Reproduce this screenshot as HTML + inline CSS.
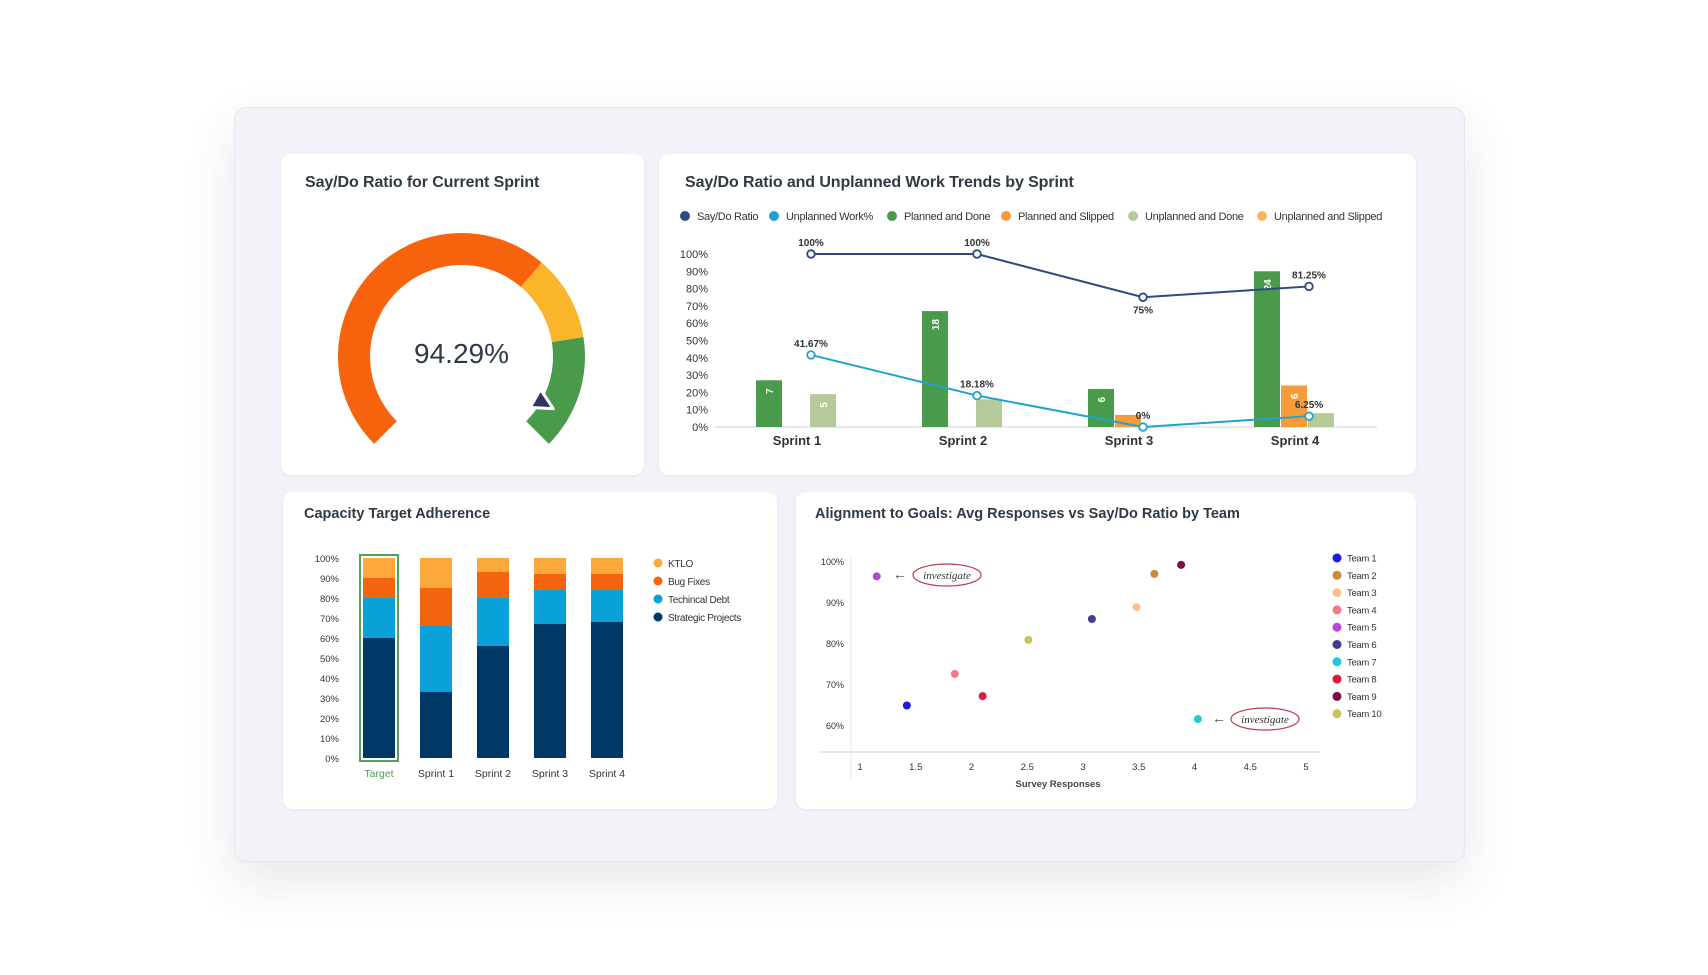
<!DOCTYPE html>
<html><head><meta charset="utf-8">
<style>
html,body{margin:0;padding:0;background:#fff;}
body{width:1708px;height:975px;position:relative;overflow:hidden;font-family:"Liberation Sans",sans-serif;}
.panel{position:absolute;left:234px;top:107px;width:1229px;height:753px;background:#f2f3f8;border-radius:12px;border:1px solid #e6e7ee;box-shadow:0 20px 50px rgba(60,60,90,0.12);}
.card{position:absolute;background:#fff;border-radius:10px;box-shadow:0 1px 3px rgba(0,0,0,0.06);}
.title{position:absolute;color:#2f3a45;font-weight:bold;white-space:nowrap;}
svg{position:absolute;left:0;top:0;}
</style></head>
<body>
<div class="panel"></div>
<div class="card" style="left:281px;top:154px;width:363px;height:321px;"></div>
<div class="card" style="left:659px;top:154px;width:757px;height:321px;"></div>
<div class="card" style="left:283px;top:492px;width:494px;height:317px;"></div>
<div class="card" style="left:796px;top:492px;width:620px;height:317px;"></div>

<div class="title" style="left:305px;top:174px;font-size:16px;letter-spacing:-0.1px;">Say/Do Ratio for Current Sprint</div>
<div class="title" style="left:685px;top:174px;font-size:16px;letter-spacing:-0.1px;">Say/Do Ratio and Unplanned Work Trends by Sprint</div>
<div class="title" style="left:304px;top:506px;font-size:14.5px;">Capacity Target Adherence</div>
<div class="title" style="left:815px;top:506px;font-size:14.5px;">Alignment to Goals: Avg Responses vs Say/Do Ratio by Team</div>

<svg id="chart" width="1708" height="975"></svg>

<script>
// ---- Gauge data ----
const gaugeValue = 94.29;
const gaugeBands = [65, 80, 100];
const gaugeColors = ['#f7630c', '#fbb52b', '#4a9a4c'];

// ---- Trend chart data ----
const sprints = ['Sprint 1', 'Sprint 2', 'Sprint 3', 'Sprint 4'];
const sayDo = [100, 100, 75, 81.25];
const unplanned = [41.67, 18.18, 0, 6.25];
const plannedDone = [27, 67, 22, 90];
const plannedSlipped = [0, 0, 7, 24];
const unplannedDone = [19, 16, 0, 8];
const unplannedSlipped = [0, 0, 0, 0];
const plannedDoneLabels = ['7', '18', '6', '24'];
const plannedSlippedLabels = ['', '', '', '6'];
const unplannedDoneLabels = ['5', '', '', ''];
const sayDoLabels = ['100%', '100%', '75%', '81.25%'];
const unplannedLabels = ['41.67%', '18.18%', '0%', '6.25%'];
const trendTicks = [0, 10, 20, 30, 40, 50, 60, 70, 80, 90, 100];

// ---- Capacity data ----
const capCats = ['Target', 'Sprint 1', 'Sprint 2', 'Sprint 3', 'Sprint 4'];
const strategic = [60, 33, 56, 67, 68];
const techDebt = [20, 33, 24, 17, 16];
const bugFixes = [10, 19, 13, 8, 8];
const ktlo = [10, 15, 7, 8, 8];
const capTicks = [0, 10, 20, 30, 40, 50, 60, 70, 80, 90, 100];

// ---- Scatter data ----
const teams = ['Team 1','Team 2','Team 3','Team 4','Team 5','Team 6','Team 7','Team 8','Team 9','Team 10'];
const responses = [1.42, 3.64, 3.48, 1.85, 1.15, 3.08, 4.03, 2.1, 3.88, 2.51];
const ratios = [65, 97.1, 89, 72.7, 96.5, 86.1, 61.7, 67.3, 99.3, 81];
const teamColors = ['#1a1ae0','#c98a3a','#fbc08e','#f07a85','#b845d6','#3f3f8f','#1fc9d6','#e3173e','#7a0f4a','#c9c35a'];
const scatterXTicks = [1, 1.5, 2, 2.5, 3, 3.5, 4, 4.5, 5];
const scatterYTicks = [60, 70, 80, 90, 100];

const NS = 'http://www.w3.org/2000/svg';
const svg = document.getElementById('chart');
function mk(tag, attrs, parent, txt){
  const e = document.createElementNS(NS, tag);
  for (const k in attrs) e.setAttribute(k, attrs[k]);
  if (txt !== undefined) e.textContent = txt;
  (parent || svg).appendChild(e);
  return e;
}

// ===== Gauge =====
(function(){
  const cx = 461.5, cy = 356.5, ro = 123.5, ri = 91.5;
  const a0 = -135, span = 270;
  const ang = v => a0 + span * v / 100;
  const pt = (r, a) => [cx + r * Math.sin(a * Math.PI / 180), cy - r * Math.cos(a * Math.PI / 180)];
  function arc(v1, v2){
    const A = ang(v1), B = ang(v2), large = (B - A) > 180 ? 1 : 0;
    const p1 = pt(ro, A), p2 = pt(ro, B), p3 = pt(ri, B), p4 = pt(ri, A);
    return `M${p1} A${ro},${ro} 0 ${large} 1 ${p2} L${p3} A${ri},${ri} 0 ${large} 0 ${p4} Z`;
  }
  let prev = 0;
  gaugeBands.forEach((b, i) => {
    const p = mk('path', {d: arc(prev, b), fill: gaugeColors[i]});
    
    
    prev = b;
  });
  const a = ang(gaugeValue), tip = pt(ri + 14, a), b1 = pt(ri - 6, a - 7), b2 = pt(ri - 6, a + 7);
  const tri = mk('polygon', {points: `${tip} ${b1} ${b2}`, fill: '#2f3560', stroke: '#fff', 'stroke-width': 3, 'stroke-linejoin': 'round'});
  
  
  const t = mk('text', {x: cx, y: 363, 'text-anchor': 'middle', 'font-size': 28, fill: '#2f3a45'}, null, gaugeValue.toFixed(2) + '%');
  
  
})();

// ===== Trend chart =====
(function(){
  const y = v => 427 - v * 1.73;
  const cx = i => 811 + i * 166;
  const legend = [['Say/Do Ratio','#2f4a7f',685],['Unplanned Work%','#1fa3d1',774],['Planned and Done','#4a9a4c',892],['Planned and Slipped','#f59b3a',1006],['Unplanned and Done','#b5c99a',1133],['Unplanned and Slipped','#f9b560',1262]];
  legend.forEach(l => {
    const g = mk('g', {});
    
    
    mk('circle', {cx: l[2], cy: 216, r: 5, fill: l[1]}, g);
    mk('text', {x: l[2] + 12, y: 220, 'font-size': 11, fill: '#333', 'letter-spacing': '-0.3'}, g, l[0]);
  });
  trendTicks.forEach(v => {
    const t = mk('text', {x: 708, y: y(v) + 4, 'text-anchor': 'end', 'font-size': 11, fill: '#333'}, null, v + '%');
    
    
  });
  mk('line', {x1: 715, x2: 1377, y1: 427, y2: 427, stroke: '#dde0e6', 'stroke-width': 1.5});
  const series = [[plannedDone,'#4a9a4c',plannedDoneLabels],[plannedSlipped,'#f59b3a',plannedSlippedLabels],[unplannedDone,'#b5c99a',unplannedDoneLabels],[unplannedSlipped,'#f9b560',null]];
  sprints.forEach((s, i) => {
    series.forEach((se, j) => {
      const v = se[0][i];
      if (v <= 0) return;
      const x = cx(i) - 55 + j * 27;
      const r = mk('rect', {x: x, y: y(v), width: 26, height: 427 - y(v), fill: se[1]});
      
      
      if (se[2] && se[2][i]) {
        mk('text', {x: 0, y: 0, transform: `translate(${x + 17},${y(v) + 8}) rotate(-90)`, 'text-anchor': 'end', 'font-size': 10, 'font-weight': 'bold', fill: '#fff'}, null, se[2][i]);
      }
    });
    const lt = mk('text', {x: cx(i) - 14, y: 445, 'text-anchor': 'middle', 'font-size': 13, 'font-weight': 'bold', fill: '#333'}, null, s);
    
    
  });
  function line(vals, color, labels, below){
    const p = mk('polyline', {points: vals.map((v, i) => cx(i) + ',' + y(v)).join(' '), fill: 'none', stroke: color, 'stroke-width': 2});
    
    
    vals.forEach((v, i) => {
      const c = mk('circle', {cx: cx(i), cy: y(v), r: 3.8, fill: '#fff', stroke: color, 'stroke-width': 1.8});
      
      
      const b = below[i];
      mk('text', {x: cx(i), y: b ? y(v) + 16 : y(v) - 8, 'text-anchor': 'middle', 'font-size': 10, 'font-weight': 'bold', fill: '#333'}, null, labels[i]);
    });
  }
  line(sayDo, '#2f4a7f', sayDoLabels, [false, false, true, false]);
  line(unplanned, '#1fa3d1', unplannedLabels, [false, false, false, false]);
})();

// ===== Capacity chart =====
(function(){
  const y = v => 758 - v * 2;
  const cx = i => 379 + i * 57;
  capTicks.forEach(v => {
    mk('text', {x: 339, y: y(v) + 4, 'text-anchor': 'end', 'font-size': 9.5, fill: '#333'}, null, v + '%');
  });
  const stacks = [[strategic,'#003865'],[techDebt,'#0aa0d8'],[bugFixes,'#f4640f'],[ktlo,'#fca83c']];
  capCats.forEach((c, i) => {
    let base = 0;
    stacks.forEach((s, j) => {
      const v = s[0][i];
      const r = mk('rect', {x: cx(i) - 16, y: y(base + v), width: 32, height: v * 2, fill: s[1]});
      
      
      base += v;
    });
    const t = mk('text', {x: cx(i), y: 777, 'text-anchor': 'middle', 'font-size': 10.5, fill: i === 0 ? '#4e9a50' : '#333'}, null, c);
    
    
  });
  const o = mk('rect', {x: cx(0) - 19, y: y(100) - 3, width: 38, height: 206, fill: 'none', stroke: '#5a9e5c', 'stroke-width': 2});
  
  
  const leg = [['KTLO','#fca83c'],['Bug Fixes','#f4640f'],['Techincal Debt','#0aa0d8'],['Strategic Projects','#003865']];
  leg.forEach((l, i) => {
    const g = mk('g', {});
    
    
    mk('circle', {cx: 658, cy: 563 + i * 18, r: 4.5, fill: l[1]}, g);
    mk('text', {x: 668, y: 567 + i * 18, 'font-size': 10, fill: '#333', 'letter-spacing': '-0.3'}, g, l[0]);
  });
})();

// ===== Scatter =====
(function(){
  const sx = v => 860 + (v - 1) * 111.5;
  const sy = v => 562 + (100 - v) * 4.1;
  mk('line', {x1: 851, x2: 851, y1: 557, y2: 780, stroke: '#e2e4ea', 'stroke-width': 1});
  mk('line', {x1: 820, x2: 1320, y1: 752, y2: 752, stroke: '#e2e4ea', 'stroke-width': 1.5});
  scatterYTicks.forEach(v => mk('text', {x: 844, y: sy(v) + 3, 'text-anchor': 'end', 'font-size': 9, fill: '#333'}, null, v + '%'));
  scatterXTicks.forEach(v => mk('text', {x: sx(v), y: 770, 'text-anchor': 'middle', 'font-size': 9.5, fill: '#333'}, null, String(v)));
  const xt = mk('text', {x: 1058, y: 787, 'text-anchor': 'middle', 'font-size': 9.5, 'font-weight': 'bold', fill: '#444'}, null, 'Survey Responses');
  
  
  teams.forEach((t, i) => {
    const c = mk('circle', {cx: sx(responses[i]), cy: sy(ratios[i]), r: 4, fill: teamColors[i]});
    
    
    const g = mk('g', {});
    
    
    const ly = 558 + i * 17.3;
    mk('circle', {cx: 1337, cy: ly, r: 4.5, fill: teamColors[i]}, g);
    mk('text', {x: 1347, y: ly + 3.5, 'font-size': 9.5, fill: '#333', 'letter-spacing': '-0.3'}, g, t);
  });
  [[900, 947, 575], [1219, 1265, 719]].forEach(a => {
    const g = mk('g', {});
    
    
    mk('text', {x: a[0], y: a[2] + 4, 'text-anchor': 'middle', 'font-size': 14, fill: '#444'}, g, '←');
    mk('ellipse', {cx: a[1], cy: a[2], rx: 34, ry: 11, fill: 'none', stroke: '#c0394a', 'stroke-width': 1.2}, g);
    mk('text', {x: a[1], y: a[2] + 4, 'text-anchor': 'middle', 'font-size': 11, 'font-style': 'italic', fill: '#333', 'font-family': '"Liberation Serif", serif'}, g, 'investigate');
  });
})();
</script>
</body></html>
